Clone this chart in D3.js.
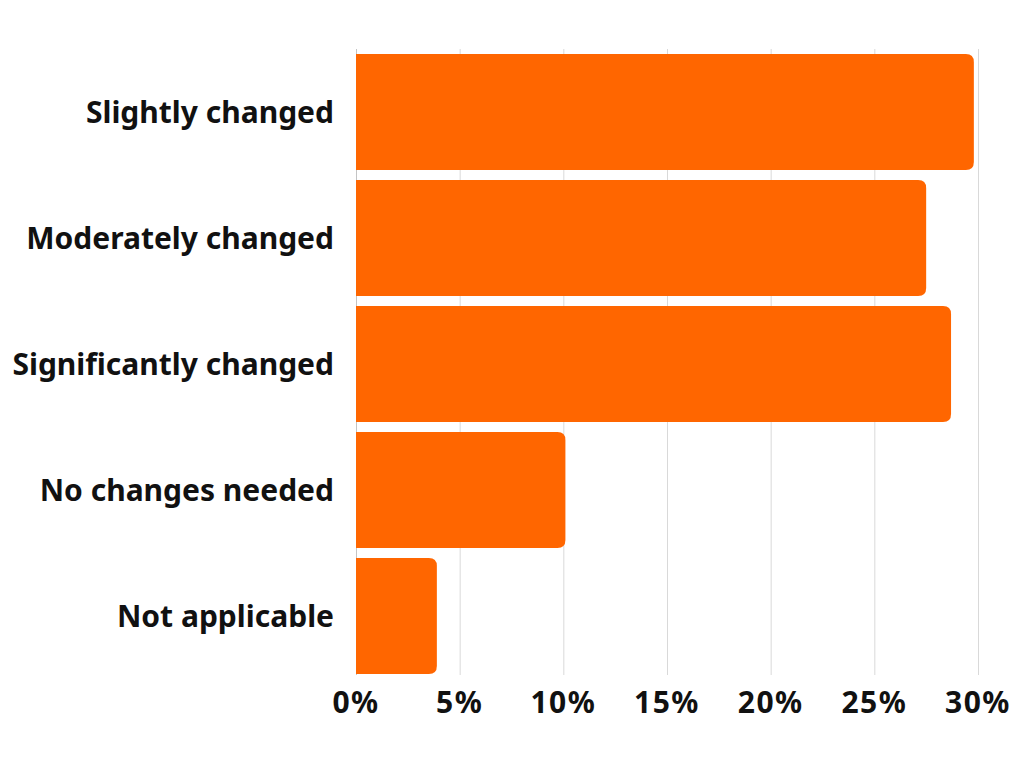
<!DOCTYPE html>
<html>
<head>
<meta charset="utf-8">
<script src="https://cdn.jsdelivr.net/npm/d3@7"></script>
<style>
  body { margin: 0; background: #fff; }
  svg text { font-family: "Noto Sans", "Open Sans", sans-serif; font-weight: 700; fill: #111; }
</style>
</head>
<body>
<div id="container"></div>
<script>
// chart data
const categories = ['Slightly changed', 'Moderately changed', 'Significantly changed', 'No changes needed', 'Not applicable']
const values = [29.8, 27.5, 28.7, 10.1, 3.9]
const xTicks = [0, 5, 10, 15, 20, 25, 30]

const width = 1024
const height = 768
const margin = { top: 49, right: 46, bottom: 89, left: 356 }

const svg = d3.select('#container').append('svg')
    .attr('width', width).attr('height', height)

const xScale = d3.scaleLinear()
    .domain([0, 30])
    .range([margin.left, width - margin.right])

const yScale = d3.scaleBand()
    .domain(categories)
    .range([margin.top, height - margin.bottom])
    .paddingInner(0.08)
    .paddingOuter(0.04)

// gridlines (incl. the zero line)
svg.append('g').attr('id', 'grid')
    .selectAll('line')
    .data(xTicks)
    .enter()
    .append('line')
    .attr('x1', d => xScale(d) + 0.5)
    .attr('x2', d => xScale(d) + 0.5)
    .attr('y1', margin.top)
    .attr('y2', height - margin.bottom - 4)
    .attr('stroke', d => d === 0 ? '#c4c4c4' : '#d9d9d9')
    .attr('stroke-width', 1)

// bars, square on the left and rounded on the right
const r = 8
const barPath = (d, i) => {
    const x0 = xScale(0)
    const x1 = xScale(values[i])
    const y0 = yScale(d)
    const h = yScale.bandwidth()
    const p = d3.path()
    p.moveTo(x0, y0)
    p.lineTo(x1 - r, y0)
    p.quadraticCurveTo(x1, y0, x1, y0 + r)
    p.lineTo(x1, y0 + h - r)
    p.quadraticCurveTo(x1, y0 + h, x1 - r, y0 + h)
    p.lineTo(x0, y0 + h)
    p.closePath()
    return p.toString()
}

svg.append('g').attr('id', 'bars')
    .selectAll('path')
    .data(categories)
    .enter()
    .append('path')
    .attr('d', barPath)
    .attr('fill', '#ff6600')

// category labels
svg.append('g').attr('id', 'y-labels')
    .selectAll('text')
    .data(categories)
    .enter()
    .append('text')
    .attr('x', margin.left - 22)
    .attr('y', d => yScale(d) + yScale.bandwidth() / 2)
    .attr('dy', '0.36em')
    .attr('text-anchor', 'end')
    .style('font-size', '30px')
    .text(d => d)

// x tick labels
svg.append('g').attr('id', 'x-labels')
    .selectAll('text')
    .data(xTicks)
    .enter()
    .append('text')
    .attr('x', d => xScale(d))
    .attr('y', 713)
    .attr('text-anchor', 'middle')
    .style('font-size', '30px')
    .style('letter-spacing', '1.5px')
    .text(d => d + '%')
</script>
</body>
</html>
